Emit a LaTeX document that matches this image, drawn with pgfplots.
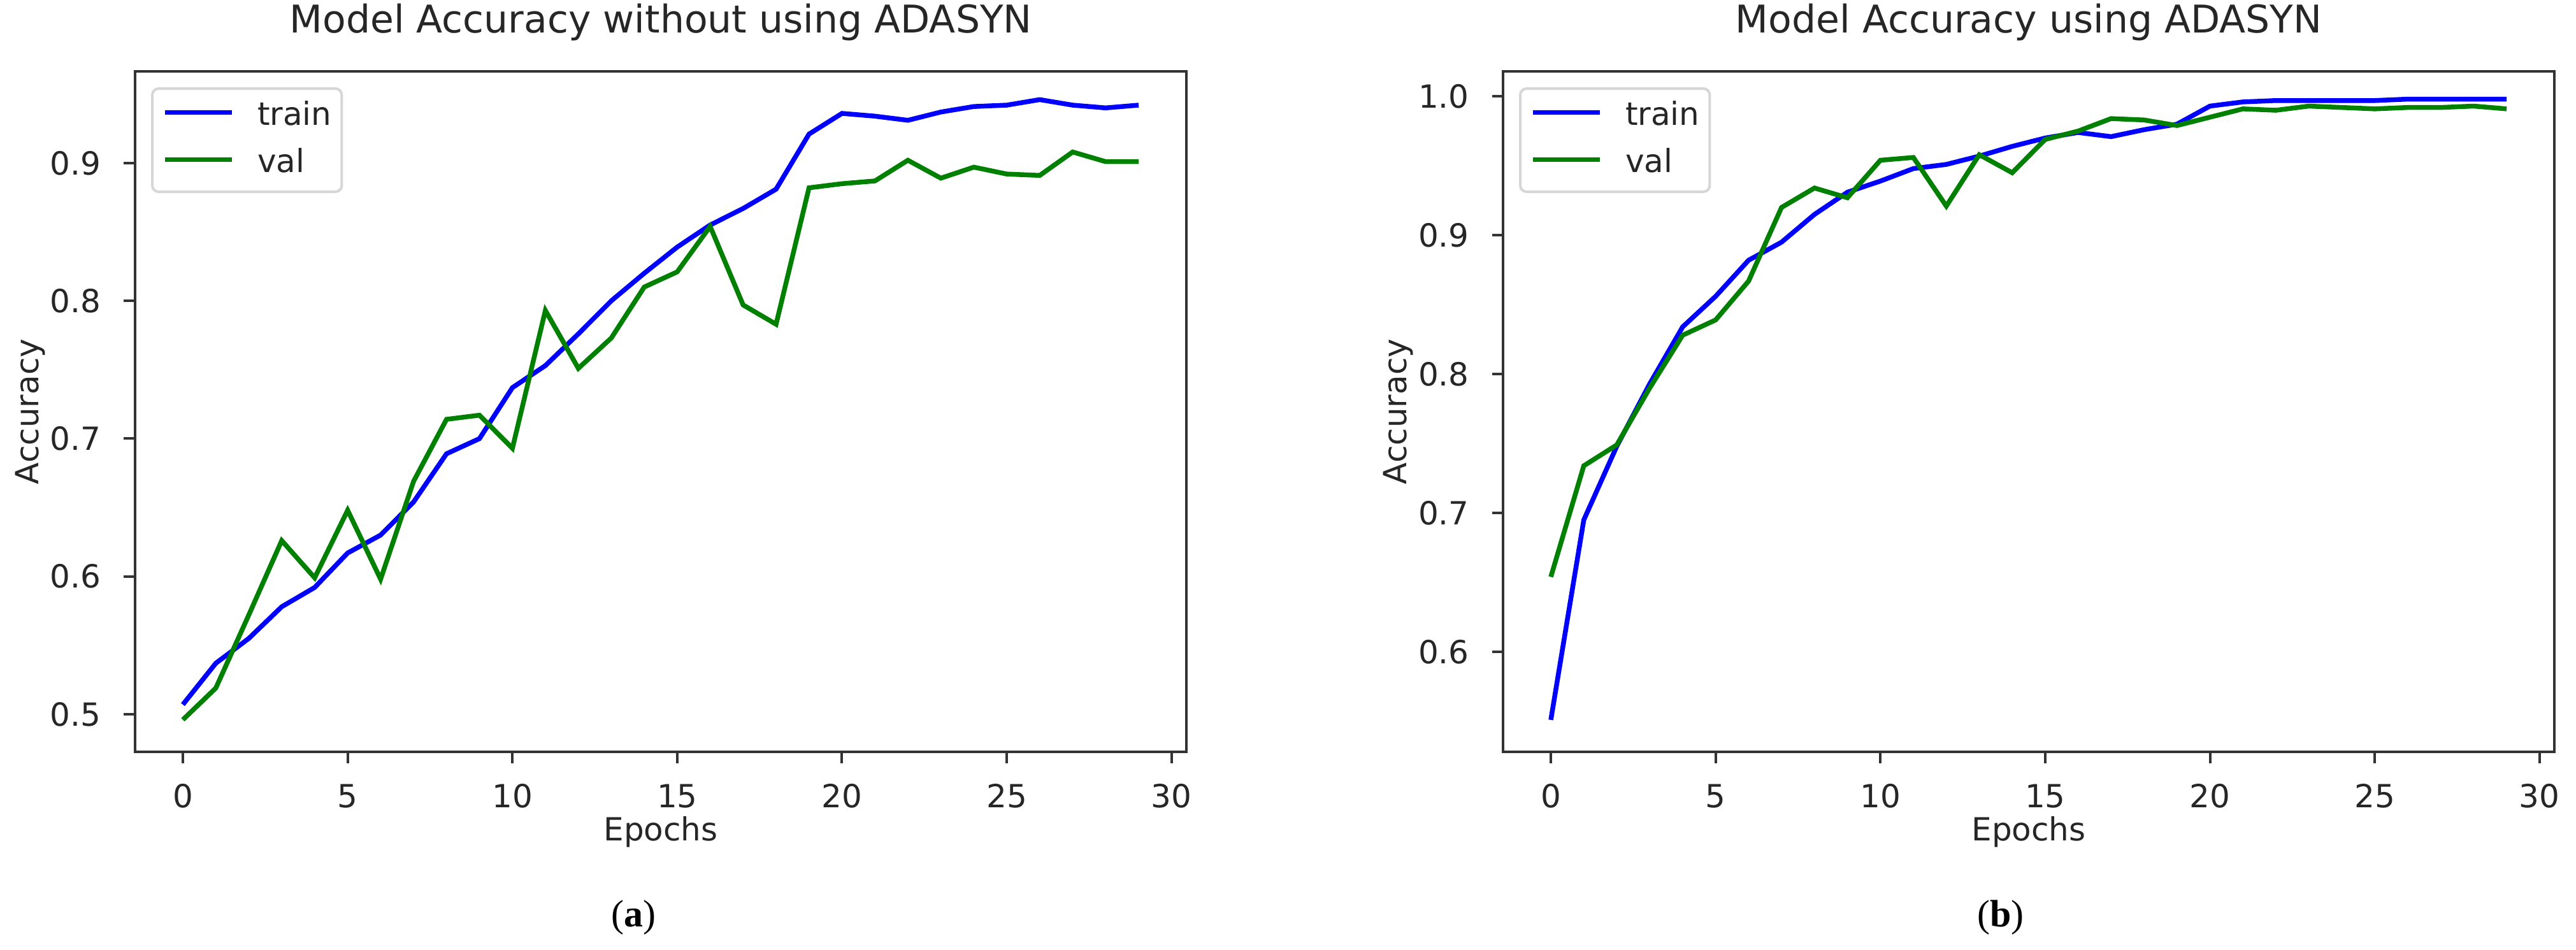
\documentclass[border=0pt]{standalone}
\usepackage{fontspec}
\usepackage{pgfplots}
\pgfplotsset{compat=1.18}
\usepackage{pgfplotstable}
\newfontfamily\dejavu{DejaVu Sans}
\newfontfamily\capserif{Liberation Serif}
\definecolor{mplblue}{HTML}{0000FF}
\definecolor{mplgreen}{HTML}{008000}
\definecolor{legframe}{HTML}{D6D6D6}

\pgfplotstableread{
x trainA valA trainB valB
0 0.507 0.496 0.551 0.654
1 0.537 0.519 0.695 0.734
2 0.555 0.572 0.748 0.749
3 0.578 0.626 0.793 0.790
4 0.592 0.599 0.834 0.828
5 0.617 0.648 0.856 0.839
6 0.630 0.598 0.882 0.867
7 0.654 0.669 0.895 0.920
8 0.689 0.714 0.915 0.934
9 0.700 0.717 0.931 0.927
10 0.737 0.693 0.939 0.954
11 0.753 0.793 0.948 0.956
12 0.776 0.751 0.951 0.921
13 0.800 0.773 0.957 0.958
14 0.820 0.810 0.964 0.945
15 0.839 0.821 0.970 0.969
16 0.855 0.854 0.974 0.975
17 0.867 0.797 0.971 0.984
18 0.881 0.783 0.976 0.983
19 0.921 0.882 0.980 0.979
20 0.936 0.885 0.993 0.985
21 0.934 0.887 0.996 0.991
22 0.931 0.902 0.997 0.990
23 0.937 0.889 0.997 0.993
24 0.941 0.897 0.997 0.992
25 0.942 0.892 0.997 0.991
26 0.946 0.891 0.998 0.992
27 0.942 0.908 0.998 0.992
28 0.940 0.901 0.998 0.993
29 0.942 0.901 0.998 0.991
}\acc

\pgfplotsset{
  mplstyle/.style={
    scale only axis,
    anchor=south west,
    width=330pt, height=213.6pt,
    font=\dejavu\fontsize{10}{12}\selectfont,
    axis line style={black!80, line width=0.8pt},
    tick style={black!80, line width=0.8pt},
    tick align=outside,
    major tick length=3.5pt,
    xtick pos=bottom, ytick pos=left,
    xmin=-1.45, xmax=30.45,
    xtick={0,5,...,30},
    /pgf/number format/assume math mode=true,
    yticklabel style={/pgf/number format/fixed, /pgf/number format/fixed zerofill, /pgf/number format/precision=1},
    ticklabel style={font=\dejavu\fontsize{10}{12}\selectfont, text=black!85},
    xticklabel style={anchor=base, inner sep=0pt, yshift=-13.9pt},
    yticklabel style={anchor=east, inner sep=0pt, xshift=-7pt},
    title style={at={(axis description cs:0.5,1.0281)}, anchor=base, inner sep=0pt,
                 font=\dejavu\fontsize{12}{14}\selectfont, text=black!85},
    xlabel style={at={(axis description cs:0.5,-0.1306)}, anchor=base, inner sep=0pt, text=black!85},
    ylabel style={at={(axis description cs:-0.0921,0.5)}, anchor=base, inner sep=0pt, text=black!85},
    xlabel={Epochs}, ylabel={Accuracy},
    legend cell align=left,
    legend style={at={(axis description cs:0,1)}, anchor=north west, xshift=5pt, yshift=-5pt,
      draw=legframe, line width=0.8pt, rounded corners=2pt, fill=white,
      inner xsep=3.2pt, inner ysep=3.9pt,
      font=\dejavu\fontsize{10}{12}\selectfont,
      nodes={inner sep=0pt, text height=7.5pt, text depth=2.3pt, text=black!85},
      row sep=5pt, column sep=7.3pt},
    legend image code/.code={
      \path[draw=none, fill=none] (0pt,-1.3pt) rectangle (21pt,1.3pt);
      \draw[#1, sharp corners] (0pt,1.3pt) -- (21pt,1.3pt);
    },
  },
}

\begin{document}
\begin{tikzpicture}
\path[use as bounding box] (0,0) rectangle (808.6pt,298pt);

\begin{axis}[mplstyle, at={(42.4pt,62pt)},
  ymin=0.4727, ymax=0.9665, ytick={0.5,0.6,0.7,0.8,0.9},
  title={Model Accuracy without using ADASYN}]
\addplot[mplblue, line width=1.5pt, no marks] table[x=x, y=trainA] {\acc};
\addlegendentry{train}
\addplot[mplgreen, line width=1.5pt, no marks] table[x=x, y=valA] {\acc};
\addlegendentry{val}
\end{axis}

\begin{axis}[mplstyle, at={(471.8pt,62pt)},
  ymin=0.528, ymax=1.018, ytick={0.6,0.7,0.8,0.9,1.0},
  title={Model Accuracy using ADASYN}]
\addplot[mplblue, line width=1.5pt, no marks] table[x=x, y=trainB] {\acc};
\addlegendentry{train}
\addplot[mplgreen, line width=1.5pt, no marks] table[x=x, y=valB] {\acc};
\addlegendentry{val}
\end{axis}

\node[anchor=base, inner sep=0pt, font=\capserif\fontsize{12}{14}\selectfont] at (198.8pt,7.1pt) {(\textbf{a})};
\node[anchor=base, inner sep=0pt, font=\capserif\fontsize{12}{14}\selectfont] at (628pt,7.1pt) {(\textbf{b})};
\end{tikzpicture}
\end{document}
